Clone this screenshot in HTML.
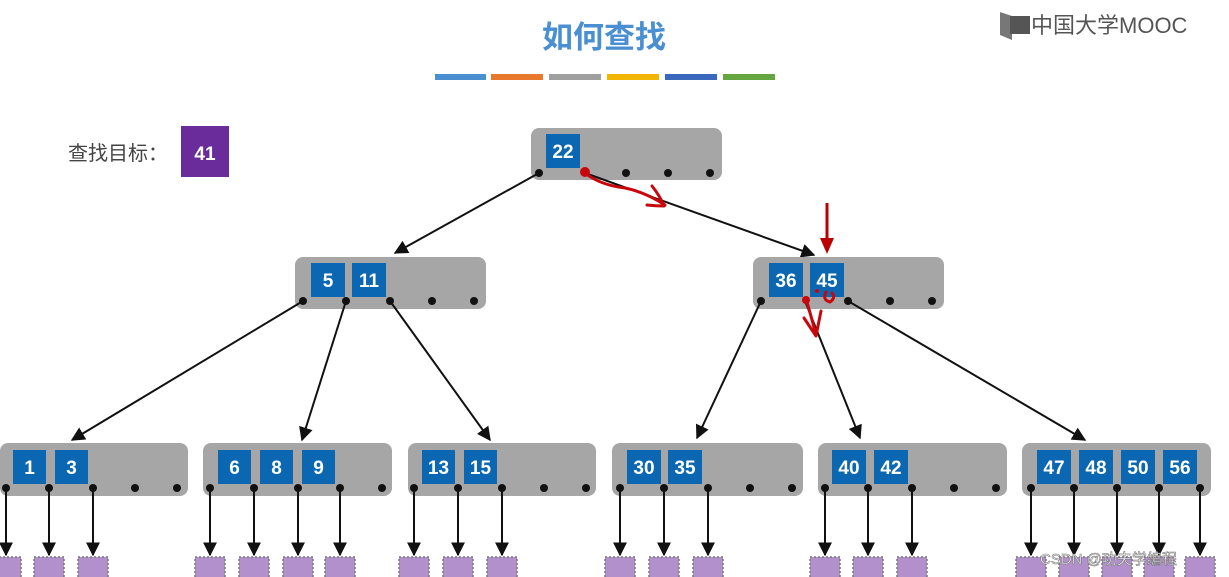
<!DOCTYPE html>
<html><head><meta charset="utf-8"><style>
html,body{margin:0;padding:0;background:#fff;}
svg{display:block;}
.k{fill:#0b67b1;}
.kt{fill:#fff;font-family:"Liberation Sans",sans-serif;font-weight:bold;font-size:19px;text-anchor:middle;}
.n{fill:#a6a6a6;}
.p{fill:#b190cc;stroke:#777;stroke-width:1.5;stroke-dasharray:2 2;}
</style></head><body>
<svg width="1229" height="577" viewBox="0 0 1229 577" xmlns="http://www.w3.org/2000/svg">
<defs>
<marker id="a" viewBox="0 0 10 10" refX="9" refY="5" markerWidth="7" markerHeight="7" orient="auto-start-reverse"><path d="M0,0 L10,5 L0,10 z" fill="#111"/></marker>
</defs>
<text x="604" y="48" text-anchor="middle" font-family="Liberation Sans,Noto Sans CJK SC,sans-serif" font-size="31" font-weight="bold" fill="#4a8fd1">如何查找</text>
<rect x="435" y="74" width="51" height="6" fill="#4a90d0"/>
<rect x="491" y="74" width="52" height="6" fill="#e8782c"/>
<rect x="549" y="74" width="52" height="6" fill="#a0a0a0"/>
<rect x="607" y="74" width="52" height="6" fill="#f2b500"/>
<rect x="665" y="74" width="52" height="6" fill="#3a68bd"/>
<rect x="723" y="74" width="52" height="6" fill="#66a640"/>
<g>
<path d="M1000,12 L1012,16 L1012,40 L1000,35 z" fill="#777"/>
<rect x="1010" y="16" width="20" height="18" fill="#555"/>
<text x="1031" y="33" font-family="Liberation Sans,Noto Sans CJK SC,sans-serif" font-size="22" fill="#555">中国大学MOOC</text>
</g>
<text x="68" y="160" font-family="Liberation Sans,Noto Sans CJK SC,sans-serif" font-size="20" fill="#444">查找目标：</text>
<rect x="181" y="126" width="48" height="51" fill="#6b2c9b"/>
<text x="205" y="160" class="kt" font-size="22">41</text>

<!-- root -->
<rect x="531" y="128" width="191" height="52" rx="8" class="n"/>
<rect x="546" y="134" width="34" height="34" class="k"/><text x="563" y="158" class="kt">22</text>
<g fill="#111"><circle cx="539" cy="173" r="4"/><circle cx="626" cy="173" r="4"/><circle cx="668" cy="173" r="4"/><circle cx="710" cy="173" r="4"/></g>
<g stroke="#111" stroke-width="2" fill="none" marker-end="url(#a)">
<line x1="539" y1="173" x2="395" y2="253"/>
<line x1="585" y1="173" x2="814" y2="255"/>
</g>

<!-- mid left -->
<rect x="295" y="257" width="191" height="52" rx="8" class="n"/>
<rect x="311" y="263" width="34" height="34" class="k"/><text x="328" y="287" class="kt">5</text>
<rect x="352" y="263" width="34" height="34" class="k"/><text x="369" y="287" class="kt">11</text>
<g fill="#111"><circle cx="303" cy="301" r="4"/><circle cx="346" cy="301" r="4"/><circle cx="390" cy="301" r="4"/><circle cx="432" cy="301" r="4"/><circle cx="474" cy="301" r="4"/></g>
<!-- mid right -->
<rect x="753" y="257" width="191" height="52" rx="8" class="n"/>
<rect x="769" y="263" width="34" height="34" class="k"/><text x="786" y="287" class="kt">36</text>
<rect x="810" y="263" width="34" height="34" class="k"/><text x="827" y="287" class="kt">45</text>
<g fill="#111"><circle cx="761" cy="301" r="4"/><circle cx="848" cy="301" r="4"/><circle cx="890" cy="301" r="4"/><circle cx="932" cy="301" r="4"/></g>
<g stroke="#111" stroke-width="2" fill="none" marker-end="url(#a)">
<line x1="303" y1="301" x2="72" y2="440"/>
<line x1="346" y1="301" x2="302" y2="440"/>
<line x1="390" y1="301" x2="490" y2="440"/>
<line x1="761" y1="301" x2="697" y2="438"/>
<line x1="805" y1="301" x2="860" y2="438"/>
<line x1="848" y1="301" x2="1085" y2="440"/>
</g>

<!-- leaves -->
<g class="n">
<rect x="0" y="443" width="188" height="53" rx="8"/>
<rect x="203" y="443" width="189" height="53" rx="8"/>
<rect x="408" y="443" width="188" height="53" rx="8"/>
<rect x="612" y="443" width="191" height="53" rx="8"/>
<rect x="818" y="443" width="189" height="53" rx="8"/>
<rect x="1022" y="443" width="189" height="53" rx="8"/>
</g>
<g class="k">
<rect x="13" y="450" width="33" height="34"/><rect x="55" y="450" width="33" height="34"/>
<rect x="218" y="450" width="33" height="34"/><rect x="260" y="450" width="33" height="34"/><rect x="302" y="450" width="33" height="34"/>
<rect x="422" y="450" width="33" height="34"/><rect x="464" y="450" width="33" height="34"/>
<rect x="627" y="450" width="34" height="34"/><rect x="668" y="450" width="34" height="34"/>
<rect x="832" y="450" width="34" height="34"/><rect x="874" y="450" width="34" height="34"/>
<rect x="1037" y="450" width="34" height="34"/><rect x="1079" y="450" width="34" height="34"/><rect x="1121" y="450" width="34" height="34"/><rect x="1163" y="450" width="34" height="34"/>
</g>
<g class="kt">
<text x="29.5" y="474">1</text><text x="71.5" y="474">3</text>
<text x="234.5" y="474">6</text><text x="276.5" y="474">8</text><text x="318.5" y="474">9</text>
<text x="438.5" y="474">13</text><text x="480.5" y="474">15</text>
<text x="644" y="474">30</text><text x="685" y="474">35</text>
<text x="849" y="474">40</text><text x="891" y="474">42</text>
<text x="1054" y="474">47</text><text x="1096" y="474">48</text><text x="1138" y="474">50</text><text x="1180" y="474">56</text>
</g>
<g fill="#111">
<circle cx="6" cy="488" r="4"/><circle cx="49" cy="488" r="4"/><circle cx="93" cy="488" r="4"/><circle cx="135" cy="488" r="4"/><circle cx="177" cy="488" r="4"/>
<circle cx="210" cy="488" r="4"/><circle cx="254" cy="488" r="4"/><circle cx="298" cy="488" r="4"/><circle cx="340" cy="488" r="4"/><circle cx="382" cy="488" r="4"/>
<circle cx="414" cy="488" r="4"/><circle cx="458" cy="488" r="4"/><circle cx="502" cy="488" r="4"/><circle cx="544" cy="488" r="4"/><circle cx="586" cy="488" r="4"/>
<circle cx="620" cy="488" r="4"/><circle cx="664" cy="488" r="4"/><circle cx="708" cy="488" r="4"/><circle cx="750" cy="488" r="4"/><circle cx="792" cy="488" r="4"/>
<circle cx="825" cy="488" r="4"/><circle cx="868" cy="488" r="4"/><circle cx="912" cy="488" r="4"/><circle cx="954" cy="488" r="4"/><circle cx="996" cy="488" r="4"/>
<circle cx="1031" cy="488" r="4"/><circle cx="1074" cy="488" r="4"/><circle cx="1117" cy="488" r="4"/><circle cx="1159" cy="488" r="4"/><circle cx="1200" cy="488" r="4"/>
</g>
<g stroke="#111" stroke-width="2" marker-end="url(#a)">
<line x1="6" y1="488" x2="6" y2="555"/><line x1="49" y1="488" x2="49" y2="555"/><line x1="93" y1="488" x2="93" y2="555"/>
<line x1="210" y1="488" x2="210" y2="555"/><line x1="254" y1="488" x2="254" y2="555"/><line x1="298" y1="488" x2="298" y2="555"/><line x1="340" y1="488" x2="340" y2="555"/>
<line x1="414" y1="488" x2="414" y2="555"/><line x1="458" y1="488" x2="458" y2="555"/><line x1="502" y1="488" x2="502" y2="555"/>
<line x1="620" y1="488" x2="620" y2="555"/><line x1="664" y1="488" x2="664" y2="555"/><line x1="708" y1="488" x2="708" y2="555"/>
<line x1="825" y1="488" x2="825" y2="555"/><line x1="868" y1="488" x2="868" y2="555"/><line x1="912" y1="488" x2="912" y2="555"/>
<line x1="1031" y1="488" x2="1031" y2="555"/><line x1="1074" y1="488" x2="1074" y2="555"/><line x1="1117" y1="488" x2="1117" y2="555"/><line x1="1159" y1="488" x2="1159" y2="555"/><line x1="1200" y1="488" x2="1200" y2="555"/>
</g>
<g class="p">
<rect x="-9" y="557" width="30" height="24"/><rect x="34" y="557" width="30" height="24"/><rect x="78" y="557" width="30" height="24"/>
<rect x="195" y="557" width="30" height="24"/><rect x="239" y="557" width="30" height="24"/><rect x="283" y="557" width="30" height="24"/><rect x="325" y="557" width="30" height="24"/>
<rect x="399" y="557" width="30" height="24"/><rect x="443" y="557" width="30" height="24"/><rect x="487" y="557" width="30" height="24"/>
<rect x="605" y="557" width="30" height="24"/><rect x="649" y="557" width="30" height="24"/><rect x="693" y="557" width="30" height="24"/>
<rect x="810" y="557" width="30" height="24"/><rect x="853" y="557" width="30" height="24"/><rect x="897" y="557" width="30" height="24"/>
<rect x="1016" y="557" width="30" height="24"/><rect x="1059" y="557" width="30" height="24"/><rect x="1102" y="557" width="30" height="24"/><rect x="1144" y="557" width="30" height="24"/><rect x="1185" y="557" width="30" height="24"/>
</g>

<!-- red annotations -->
<g stroke="#c8060b" fill="none" stroke-width="3" stroke-linecap="round" stroke-linejoin="round">
<path d="M585,173 Q600,185 625,188 Q645,192 665,205"/>
<path d="M652,186 Q660,196 664,206 Q656,206 647,205"/>
<path d="M806,299 Q810,312 816,335"/>
<path d="M804,318 L816,336 L821,311"/>
<path d="M826,292 Q822,300 830,302 Q836,298 832,293"/>
</g>
<circle cx="585" cy="172" r="5" fill="#c8060b"/>
<circle cx="806" cy="300" r="4" fill="#c8060b"/>
<circle cx="817" cy="291" r="2" fill="#c8060b"/>
<line x1="827" y1="203" x2="827" y2="240" stroke="#b00" stroke-width="3"/>
<path d="M820,238 L834,238 L827,254 z" fill="#b00"/>
<text x="1040" y="564" font-family="Liberation Sans,Noto Sans CJK SC,sans-serif" font-size="15" fill="#fff" stroke="#777" stroke-width="0.6">CSDN @功夫学编程</text>
</svg>
</body></html>
